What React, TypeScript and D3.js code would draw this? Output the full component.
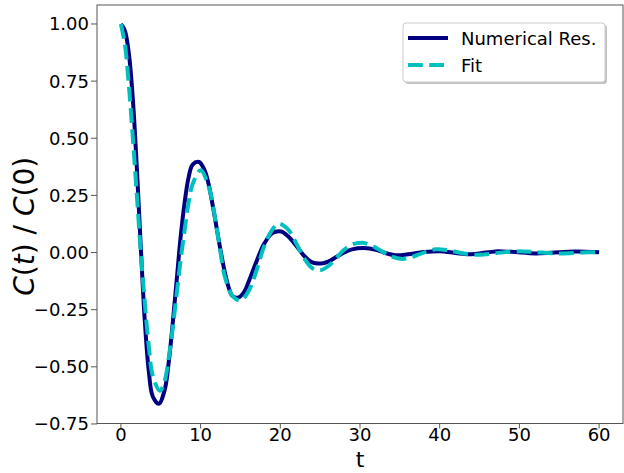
import React from 'react';
import * as d3 from 'd3';

// Numerical result
const numT = [0, 0.5, 1, 1.5, 2, 2.5, 3, 3.5, 4, 4.75, 5.5, 6, 6.5, 7, 7.5, 8, 8.5, 9, 9.8, 10.5, 11, 11.5, 12, 12.5, 13, 13.5, 14, 14.8, 15.5, 16, 17, 18, 19, 20.1, 21, 22, 23, 24, 25.1, 26, 27, 28, 29, 30.5, 32, 33, 34.5, 36, 38, 40, 42, 43.5, 45, 47, 49, 52, 54, 57, 60];
const numY = [1.0, 0.97, 0.87, 0.67, 0.37, 0.02, -0.30, -0.52, -0.63, -0.662, -0.60, -0.48, -0.31, -0.12, 0.07, 0.22, 0.33, 0.385, 0.396, 0.36, 0.30, 0.21, 0.11, 0.01, -0.08, -0.15, -0.19, -0.196, -0.17, -0.13, -0.04, 0.04, 0.085, 0.092, 0.07, 0.03, -0.015, -0.043, -0.048, -0.04, -0.02, 0.0, 0.014, 0.02, 0.012, 0.0, -0.012, -0.008, 0.002, 0.006, -0.002, -0.008, -0.004, 0.005, 0.003, -0.004, -0.001, 0.005, 0.001];

// Fit curve
const fitT = [0, 0.5, 1, 1.5, 2, 2.5, 3, 3.5, 4, 4.9, 5.5, 6, 6.5, 7, 7.5, 8, 8.5, 9, 10, 11, 12, 12.5, 13, 14, 15, 16, 17, 18, 19, 19.8, 21, 22, 23, 24, 25, 26, 27, 28, 29, 30.3, 31.5, 33, 34, 35.3, 36.5, 38, 39.5, 41, 43, 45, 47, 49, 50.5, 52, 55, 58, 60];
const fitY = [1.0, 0.91, 0.73, 0.50, 0.25, 0.0, -0.22, -0.41, -0.54, -0.605, -0.56, -0.46, -0.33, -0.18, -0.03, 0.10, 0.22, 0.30, 0.36, 0.29, 0.11, 0.0, -0.10, -0.19, -0.21, -0.17, -0.08, 0.03, 0.10, 0.126, 0.10, 0.04, -0.025, -0.068, -0.078, -0.06, -0.025, 0.012, 0.035, 0.043, 0.03, 0.0, -0.018, -0.028, -0.02, 0.0, 0.014, 0.01, -0.004, -0.01, -0.003, 0.004, 0.005, 0.002, -0.004, 0.0, 0.002];

const xTicks = [0, 10, 20, 30, 40, 50, 60];
const yTicks = [-0.75, -0.5, -0.25, 0.0, 0.25, 0.5, 0.75, 1.0];

const W = 624;
const H = 473;
const FONT = 'DejaVu Sans, sans-serif';

export default function App() {
  const x = d3.scaleLinear().domain([-3, 63]).range([97, 623]);
  const y = d3.scaleLinear().domain([-0.748, 1.083]).range([423.5, 5]);

  const line = d3
    .line<[number, number]>()
    .x(d => x(d[0]))
    .y(d => y(d[1]))
    .curve(d3.curveCatmullRom.alpha(0.5));

  const numPts = numT.map((t, i) => [t, numY[i]] as [number, number]);
  const fitPts = fitT.map((t, i) => [t, fitY[i]] as [number, number]);

  const [x0, x1] = x.range();
  const [y0, y1] = y.range();
  const spine = '#555';

  return (
    <svg
      width={W}
      height={H}
      style={{ position: 'absolute', left: 0, top: 0, background: '#fff' }}
      fontFamily={FONT}
    >
      <rect width={W} height={H} fill="#fff" />

      {/* curves */}
      <path d={line(numPts) ?? ''} fill="none" stroke="#000080" strokeWidth={4} strokeLinejoin="round" />
      <path
        d={line(fitPts) ?? ''}
        fill="none"
        stroke="#00bfbf"
        strokeWidth={4}
        strokeDasharray="14.8,6.4"
      />

      {/* spines */}
      <rect x={x0} y={y1} width={x1 - x0} height={y0 - y1} fill="none" stroke={spine} strokeWidth={1} />

      {/* x ticks */}
      {xTicks.map(t => (
        <g key={'x' + t}>
          <line x1={x(t)} x2={x(t)} y1={y0} y2={y0 + 5} stroke={spine} />
          <text x={x(t)} y={441} fontSize={18} textAnchor="middle" fill="#000">
            {t}
          </text>
        </g>
      ))}

      {/* y ticks */}
      {yTicks.map(v => (
        <g key={'y' + v}>
          <line x1={x0 - 6} x2={x0} y1={y(v)} y2={y(v)} stroke={spine} />
          <text x={x0 - 8} y={y(v) + 6.5} fontSize={18} textAnchor="end" fill="#000">
            {(v < 0 ? '\u2212' : '') + Math.abs(v).toFixed(2)}
          </text>
        </g>
      ))}

      {/* axis labels */}
      <text x={(x0 + x1) / 2} y={467} fontSize={22} textAnchor="middle">t</text>
      <text
        transform={`translate(34, ${(y0 + y1) / 2 + 12}) rotate(-90)`}
        fontSize={28}
        textAnchor="middle"
      >
        <tspan fontStyle="italic">C</tspan>(<tspan fontStyle="italic">t</tspan>) / <tspan fontStyle="italic">C</tspan>(0)
      </text>

      {/* legend */}
      <g>
        <rect x={405} y={25} width={202} height={59} rx={3} fill="#888" opacity={0.5} />
        <rect x={403} y={23} width={202} height={59} rx={3} fill="#fff" stroke="#ccc" strokeWidth={1} />
        <line x1={408} x2={448} y1={38} y2={38} stroke="#000080" strokeWidth={4} />
        <text x={461} y={44.5} fontSize={18}>Numerical Res.</text>
        <line x1={408} x2={448} y1={65} y2={65} stroke="#00bfbf" strokeWidth={4} strokeDasharray="14.8,6.4" />
        <text x={461} y={71.5} fontSize={18}>Fit</text>
      </g>
    </svg>
  );
}
